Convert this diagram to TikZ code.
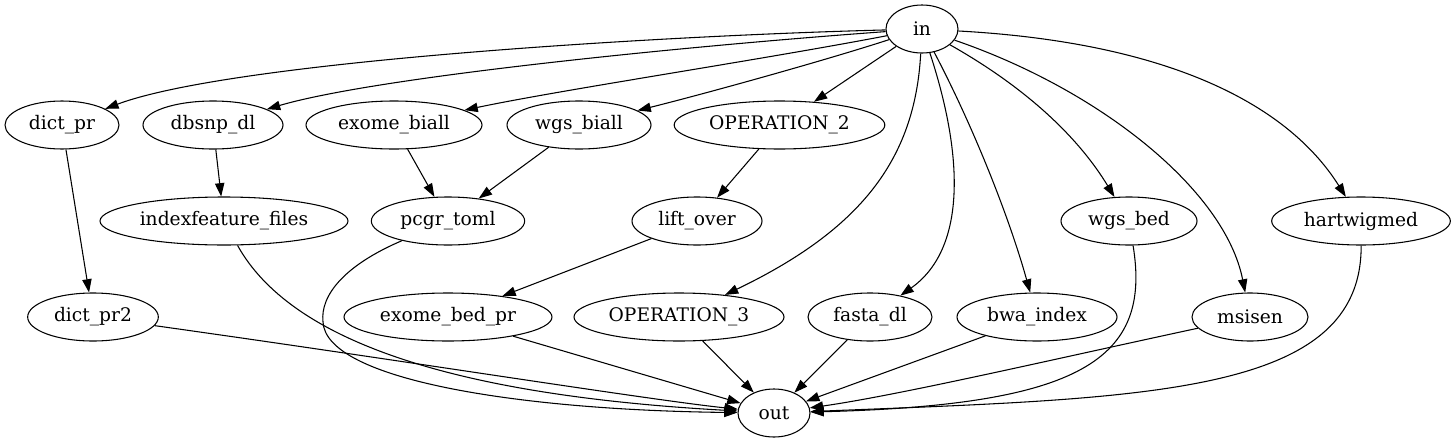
\documentclass[tikz,border=0pt]{standalone}
\usepackage{fontspec}
\setmainfont{DejaVu Serif}
\usetikzlibrary{shapes.geometric,arrows.meta}
\begin{document}
\begin{tikzpicture}[x=0.75pt,y=-0.75pt,
  nd/.style={draw,ellipse,line width=0.8pt,inner sep=0pt,minimum height=36pt,font=\fontsize{14}{16}\selectfont},
  ed/.style={line width=0.8pt,-{Triangle[length=10pt,width=7pt]}}]
\useasboundingbox (0,0) rectangle (1456,443);
\node[nd,minimum width=54pt] (in) at (922,29) {in};
\node[nd,minimum width=85.5pt] (dictpr) at (62,125) {dict\_pr};
\node[nd,minimum width=105pt] (dbsnp) at (213,125) {dbsnp\_dl};
\node[nd,minimum width=132pt] (exbiall) at (394,125) {exome\_biall};
\node[nd,minimum width=108pt] (wgsbiall) at (579,125) {wgs\_biall};
\node[nd,minimum width=158pt] (op2) at (779.5,125) {OPERATION\_2};
\node[nd,minimum width=186pt] (idx) at (224,221) {indexfeature\_files};
\node[nd,minimum width=115pt] (pcgr) at (448,221) {pcgr\_toml};
\node[nd,minimum width=97.5pt] (lift) at (697,221) {lift\_over};
\node[nd,minimum width=102pt] (wgsbed) at (1129,221) {wgs\_bed};
\node[nd,minimum width=134pt] (hart) at (1361,221) {hartwigmed};
\node[nd,minimum width=98pt] (dictpr2) at (93,317) {dict\_pr2};
\node[nd,minimum width=156pt] (exbed) at (448,317) {exome\_bed\_pr};
\node[nd,minimum width=157.5pt] (op3) at (679,317) {OPERATION\_3};
\node[nd,minimum width=93pt] (fasta) at (870,317) {fasta\_dl};
\node[nd,minimum width=120pt] (bwa) at (1037,317) {bwa\_index};
\node[nd,minimum width=87pt] (msi) at (1250,317) {msisen};
\node[nd,minimum width=54pt] (out) at (774,413) {out};
\coordinate (pcgrbend) at (323,322);
% from in
\draw[ed] (in) .. controls (650,36) and (230,62) .. (dictpr);
\draw[ed] (in) .. controls (700,45) and (380,76) .. (dbsnp);
\draw[ed] (in) .. controls (760,60) and (560,90) .. (exbiall);
\draw[ed] (in) .. controls (820,62) and (700,95) .. (wgsbiall);
\draw[ed] (in) -- (op2);
\draw[ed] (in) .. controls (915,160) and (860,230) .. (op3);
\draw[ed] (in) .. controls (965,160) and (965,250) .. (fasta);
\draw[ed] (in) .. controls (975,130) and (1010,220) .. (bwa);
\draw[ed] (in) .. controls (1030,90) and (1080,140) .. (wgsbed);
\draw[ed] (in) .. controls (1100,90) and (1225,190) .. (msi);
\draw[ed] (in) .. controls (1160,42) and (1285,100) .. (hart);
% middle
\draw[ed] (dictpr) -- (dictpr2);
\draw[ed] (dbsnp) -- (idx);
\draw[ed] (exbiall) -- (pcgr);
\draw[ed] (wgsbiall) -- (pcgr);
\draw[ed] (op2) -- (lift);
\draw[ed] (lift) -- (exbed);
% to out
\draw[ed] (dictpr2) .. controls (400,360) and (650,400) .. (out);
\draw[ed] (idx) .. controls (290,340) and (450,395) .. (out);
\draw[ed] (pcgr) .. controls (345,265) and (320,295) .. (pcgrbend) .. controls (326,380) and (520,410) .. (out);
\draw[ed] (exbed) -- (out);
\draw[ed] (op3) -- (out);
\draw[ed] (fasta) -- (out);
\draw[ed] (bwa) -- (out);
\draw[ed] (msi) .. controls (1050,360) and (900,395) .. (out);
\draw[ed] (wgsbed) .. controls (1152,360) and (1080,405) .. (out);
\draw[ed] (hart) .. controls (1362,395) and (1150,398) .. (out);
\end{tikzpicture}
\end{document}
